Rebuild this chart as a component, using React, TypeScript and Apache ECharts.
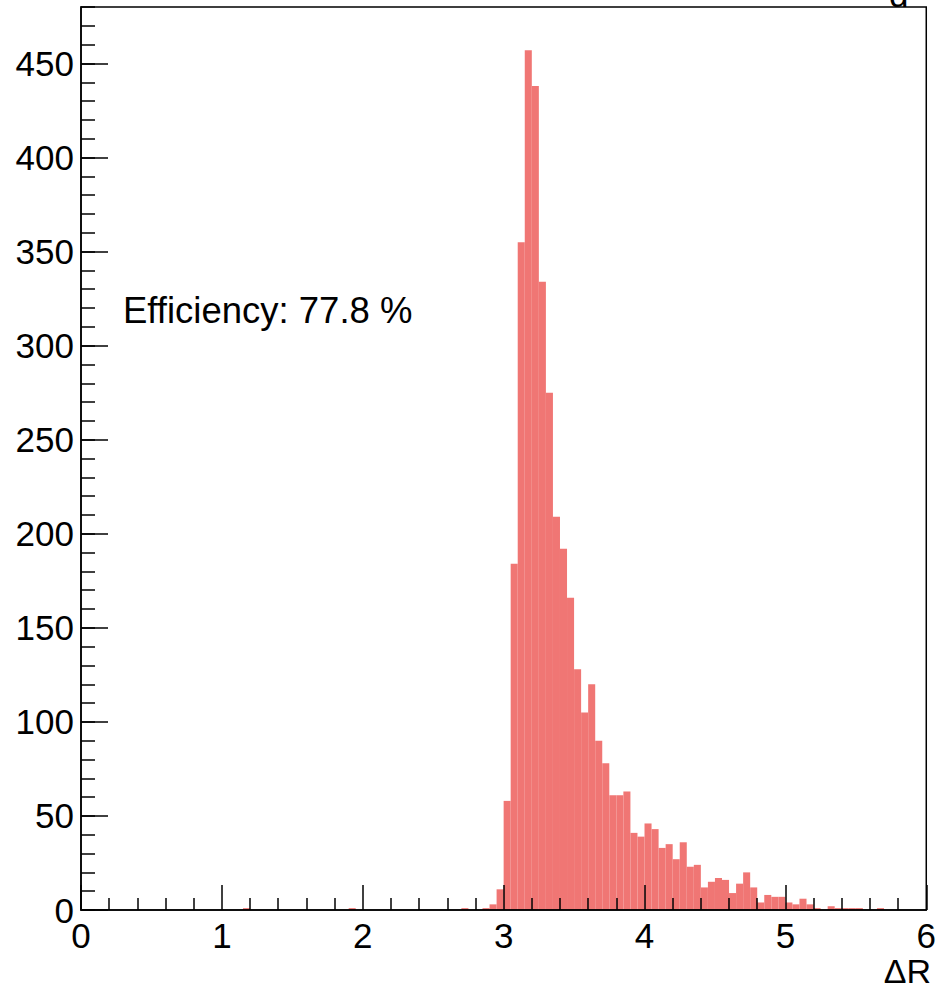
import React, { useEffect, useRef } from "react";
import * as echarts from "echarts";

// Histogram: 120 bins of width 0.05 from 0 to 6
const binStart = 0;
const binWidth = 0.05;
const counts = [
  0, 0, 0, 0, 0, 0, 0, 0, 0, 0,
  0, 0, 0, 0, 0, 0, 0, 0, 0, 0,
  0, 0, 0, 1, 0, 0, 0, 0, 0, 0,
  0, 0, 0, 0, 0, 0, 0, 0, 1, 0,
  0, 0, 0, 0, 0, 0, 0, 0, 0, 0,
  0, 0, 0, 0, 1, 0, 0, 1, 3, 11,
  58, 184, 355, 457, 438, 334, 275, 209, 192, 166,
  128, 105, 120, 90, 78, 61, 61, 63, 41, 39,
  46, 43, 33, 35, 27, 36, 23, 24, 12, 15,
  17, 16, 9, 14, 20, 12, 4, 8, 7, 7,
  4, 3, 6, 3, 1, 0, 2, 1, 1, 1,
  1, 0, 0, 1, 0, 0, 0, 0, 0, 0,
];
const xTickLabels = ["0", "1", "2", "3", "4", "5", "6"];
const efficiencyText = "Efficiency: 77.8 %";
const xAxisTitle = "ΔR";

const FONT = "Liberation Sans, Arial, Helvetica, sans-serif";
const BAR = "#f07674";
const FS = 35;

export default function App() {
  const ref = useRef<HTMLDivElement>(null);
  useEffect(() => {
    document.body.style.margin = "0";
    const chart = echarts.init(ref.current!, null, { renderer: "svg" });
    const data = counts
      .map((c, i) => [binStart + i * binWidth, binStart + (i + 1) * binWidth, c])
      .filter((d) => d[2] > 0);
    const tickLine = { color: "#000", width: 1.5 };
    chart.setOption({
      animation: false,
      grid: {
        left: 81,
        right: 11,
        top: 7,
        bottom: 79,
        show: true,
        borderColor: "#000",
        borderWidth: 1.5,
        backgroundColor: "transparent",
        z: 10,
      },
      xAxis: [
        {
          type: "value",
          min: 0,
          max: 6,
          interval: 1,
          z: 10,
          axisLine: { show: true, onZero: false, lineStyle: tickLine },
          axisTick: { show: true, inside: true, length: 25, lineStyle: tickLine },
          minorTick: { show: true, splitNumber: 5, length: 12, lineStyle: tickLine },
          splitLine: { show: false },
          axisLabel: {
            fontSize: FS,
            fontFamily: FONT,
            color: "#000",
            margin: 8,
            formatter: (v: number) => xTickLabels[Math.round(v)] ?? "",
          },
        },
      ],
      yAxis: [
        {
          type: "value",
          min: 0,
          max: 480,
          interval: 50,
          z: 10,
          axisLine: { show: true, lineStyle: tickLine },
          axisTick: { show: true, inside: true, length: 27, lineStyle: tickLine },
          splitLine: { show: false },
          axisLabel: {
            fontSize: FS,
            fontFamily: FONT,
            color: "#000",
            margin: 7,
            showMaxLabel: false,
          },
        },
        {
          type: "value",
          position: "left",
          min: 0,
          max: 480,
          interval: 10,
          z: 10,
          axisLine: { show: false },
          axisTick: { show: true, inside: true, length: 14, lineStyle: tickLine },
          splitLine: { show: false },
          axisLabel: { show: false },
        },
      ],
      series: [
        {
          type: "custom",
          xAxisIndex: 0,
          yAxisIndex: 0,
          encode: { x: [0, 1], y: 2 },
          data,
          renderItem: (params: any, api: any) => {
            const p0 = api.coord([api.value(0), api.value(2)]);
            const p1 = api.coord([api.value(1), 0]);
            return {
              type: "rect",
              shape: { x: p0[0], y: p0[1], width: p1[0] - p0[0], height: p1[1] - p0[1] },
              style: { fill: BAR },
            };
          },
        },
      ],
      graphic: [
        {
          type: "text",
          x: 123,
          y: 310,
          style: {
            text: efficiencyText,
            font: `36.5px ${FONT}`,
            fill: "#000",
            align: "left",
            verticalAlign: "middle",
          },
        },
        {
          type: "text",
          x: 931,
          y: 988,
          style: {
            text: xAxisTitle,
            font: `34px ${FONT}`,
            fill: "#000",
            align: "right",
            verticalAlign: "bottom",
          },
        },
        {
          type: "text",
          x: 889,
          y: 12,
          style: {
            text: "d",
            font: `${FS}px ${FONT}`,
            fill: "#000",
            align: "left",
            verticalAlign: "bottom",
          },
        },
      ],
    });
    return () => chart.dispose();
  }, []);
  return <div ref={ref} style={{ width: 939, height: 989 }} />;
}
